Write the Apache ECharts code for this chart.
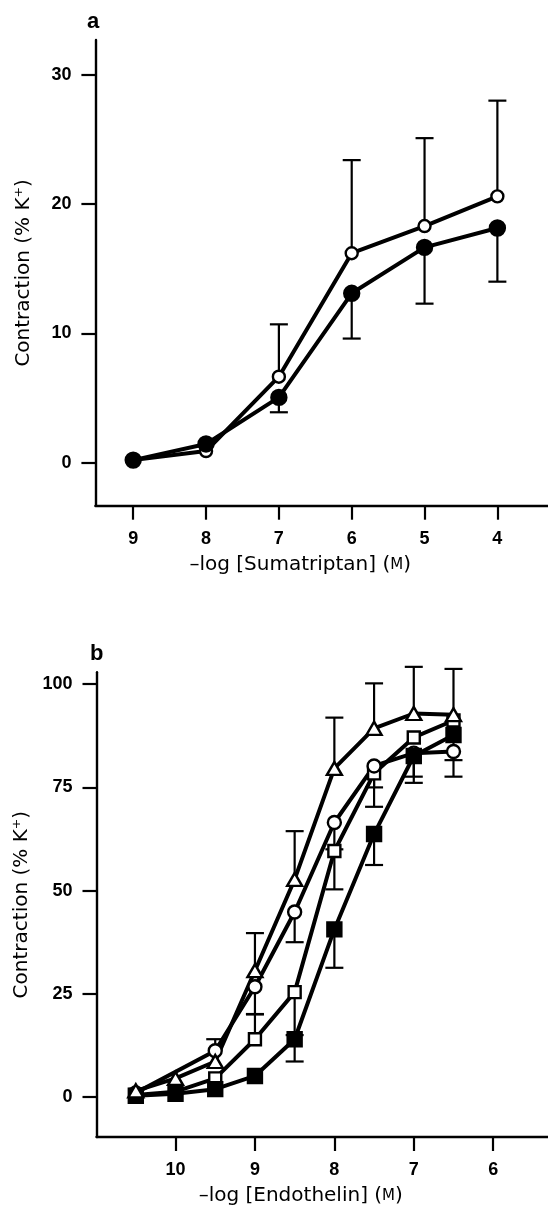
<!DOCTYPE html>
<html><head><meta charset="utf-8">
<script src="https://cdn.jsdelivr.net/npm/echarts@6/dist/echarts.min.js"></script>
<style>html,body{margin:0;padding:0;background:#fff}#c{width:548px;height:1207px}</style>
</head><body><div id="c"></div>
<script>
// ---- Panel a: sumatriptan ----
const sumaX = [9, 8, 7, 6, 5, 4];
const sumaOpen = [0.2, 0.9, 6.65, 16.2, 18.3, 20.6];
const sumaOpenErrHi = [null, null, 10.7, 23.4, 25.1, 28.0];
const sumaFilled = [0.2, 1.45, 5.05, 13.1, 16.65, 18.15];
const sumaFilledErrLo = [null, null, 3.9, 9.6, 12.3, 14.0];
const yTicksA = [0, 10, 20, 30];
const xTicksA = [9, 8, 7, 6, 5, 4];

// ---- Panel b: endothelin ----
const endoX = [10.5, 10, 9.5, 9, 8.5, 8, 7.5, 7, 6.5];
const triOpen = [1.5, 4.5, 8.6, 30.6, 52.7, 79.6, 89.3, 92.9, 92.6];
const triOpenErrHi = [null, null, 14.0, 39.7, 64.4, 91.9, 100.2, 104.2, 103.7];
const circOpen = [1.0, null, 11.2, 26.7, 44.8, 66.5, 80.2, 83.3, 83.7];
const circOpenErrLo = [null, null, null, 20.0, 37.5, 60.0, 75.0, 77.6, 81.6];
const sqOpen = [0.5, 1.3, 4.5, 14.0, 25.4, 59.6, 78.4, 87.1, 91.2];
const sqOpenErrHi = [null, null, null, 20.1, null, null, null, null, null];
const sqOpenErrLo = [null, null, null, null, 15.0, 50.3, 70.3, null, null];
const sqFilled = [0.3, 0.8, 1.9, 5.1, 14.0, 40.6, 63.7, 82.6, 87.7];
const sqFilledErrLo = [null, null, null, null, 8.6, 31.3, 56.2, 76.1, 77.6];
const yTicksB = [0, 25, 50, 75, 100];
const xTicksB = [10, 9, 8, 7, 6];

const pairs = (xs, ys) => xs.map((x, i) => [x, ys[i]]).filter(p => p[1] != null);
const errPairs = (xs, ys, es) => xs.map((x, i) => [x, ys[i], es[i]]).filter(p => p[1] != null && p[2] != null);

const LBL = {color: '#000', fontFamily: 'Liberation Sans', fontWeight: 'bold', fontSize: 18};
const TITLE = {color: '#000', fontFamily: 'DejaVu Sans', fontSize: 20, rich: {sc: {fontFamily: 'DejaVu Sans', fontSize: 15, color: '#000'}}};

function errRender(params, api) {
  const x = api.value(0), y = api.value(1), e = api.value(2);
  const p0 = api.coord([x, y]);
  const p1 = api.coord([x, e]);
  const hw = 9;
  const st = {stroke: '#000', lineWidth: 2.2};
  return {type: 'group', children: [
    {type: 'line', shape: {x1: p0[0], y1: p0[1], x2: p1[0], y2: p1[1]}, style: st},
    {type: 'line', shape: {x1: p1[0] - hw, y1: p1[1], x2: p1[0] + hw, y2: p1[1]}, style: st}
  ]};
}
function errSeries(idx, data) {
  return {type: 'custom', xAxisIndex: idx, yAxisIndex: idx, renderItem: errRender, data: data,
          encode: {x: 0, y: 1}, clip: false, z: 1, silent: true};
}
function lineSeries(idx, data) {
  return {type: 'line', xAxisIndex: idx, yAxisIndex: idx, data: data, symbol: 'none',
          lineStyle: {color: '#000', width: 4}, z: 2, silent: true};
}
function markSeries(idx, data, symbol, size, filled, z) {
  return {type: 'scatter', xAxisIndex: idx, yAxisIndex: idx, data: data, symbol: symbol, symbolSize: size,
          itemStyle: {color: filled ? '#000' : '#fff', borderColor: '#000', borderWidth: 2.4, opacity: 1},
          z: z, silent: true};
}
function xAxis(idx, min, max, ticks, name) {
  return {type: 'value', gridIndex: idx, min: min, max: max, inverse: true,
    axisLine: {show: true, onZero: false, lineStyle: {color: '#000', width: 2.4}},
    axisTick: {show: true, length: 14, lineStyle: {color: '#000', width: 2.2}, customValues: ticks},
    axisLabel: {show: true, margin: 24, customValues: ticks, ...LBL},
    splitLine: {show: false},
    name: name, nameLocation: 'middle', nameGap: 49,
    nameTextStyle: Object.assign({padding: [0, 43, 0, 0]}, TITLE)};
}
function yAxis(idx, min, max, ticks, name) {
  return {type: 'value', gridIndex: idx, min: min, max: max,
    axisLine: {show: true, onZero: false, lineStyle: {color: '#000', width: 2.4}},
    axisTick: {show: true, length: 14, lineStyle: {color: '#000', width: 2.2}, customValues: ticks},
    axisLabel: {show: true, margin: 24, customValues: ticks, ...LBL},
    splitLine: {show: false},
    name: name, nameLocation: 'middle', nameGap: 62, nameRotate: 90, nameTextStyle: TITLE};
}

const chart = echarts.init(document.getElementById('c'), null, {renderer: 'canvas'});
chart.setOption({
  animation: false,
  backgroundColor: '#fff',
  grid: [
    {left: 95.4, width: 452.6, top: 40, height: 465.7, containLabel: false},
    {left: 96.5, width: 451.5, top: 672.3, height: 464.7, containLabel: false}
  ],
  xAxis: [
    xAxis(0, 3.305, 9.519, xTicksA, '–log [Sumatriptan] ({sc|M})'),
    xAxis(1, 5.31, 10.995, xTicksB, '–log [Endothelin] ({sc|M})')
  ],
  yAxis: [
    yAxis(0, -3.326, 32.69, yTicksA, 'Contraction (% K⁺)'),
    yAxis(1, -9.69, 102.88, yTicksB, 'Contraction (% K⁺)')
  ],
  graphic: [
    {type: 'text', left: 87, top: 11, style: {text: 'a', fill: '#000', font: 'bold 22px "Liberation Sans"'}},
    {type: 'text', left: 90, top: 643, style: {text: 'b', fill: '#000', font: 'bold 22px "Liberation Sans"'}}
  ],
  series: [
    // panel a
    errSeries(0, errPairs(sumaX, sumaOpen, sumaOpenErrHi)),
    errSeries(0, errPairs(sumaX, sumaFilled, sumaFilledErrLo)),
    lineSeries(0, pairs(sumaX, sumaOpen)),
    lineSeries(0, pairs(sumaX, sumaFilled)),
    markSeries(0, pairs(sumaX, sumaOpen), 'circle', 12, false, 4),
    markSeries(0, pairs(sumaX, sumaFilled), 'circle', 15, true, 5),
    // panel b
    errSeries(1, errPairs(endoX, triOpen, triOpenErrHi)),
    errSeries(1, errPairs(endoX, circOpen, circOpenErrLo)),
    errSeries(1, errPairs(endoX, sqOpen, sqOpenErrHi)),
    errSeries(1, errPairs(endoX, sqOpen, sqOpenErrLo)),
    errSeries(1, errPairs(endoX, sqFilled, sqFilledErrLo)),
    lineSeries(1, pairs(endoX, triOpen)),
    lineSeries(1, pairs(endoX, circOpen)),
    lineSeries(1, pairs(endoX, sqOpen)),
    lineSeries(1, pairs(endoX, sqFilled)),
    markSeries(1, pairs(endoX, sqOpen), 'rect', 12, false, 4),
    markSeries(1, pairs(endoX, circOpen), 'circle', 13, false, 5),
    markSeries(1, pairs(endoX, sqFilled), 'rect', 14, true, 6),
    markSeries(1, pairs(endoX, triOpen), 'triangle', [15, 13], false, 7)
  ]
});
</script></body></html>
